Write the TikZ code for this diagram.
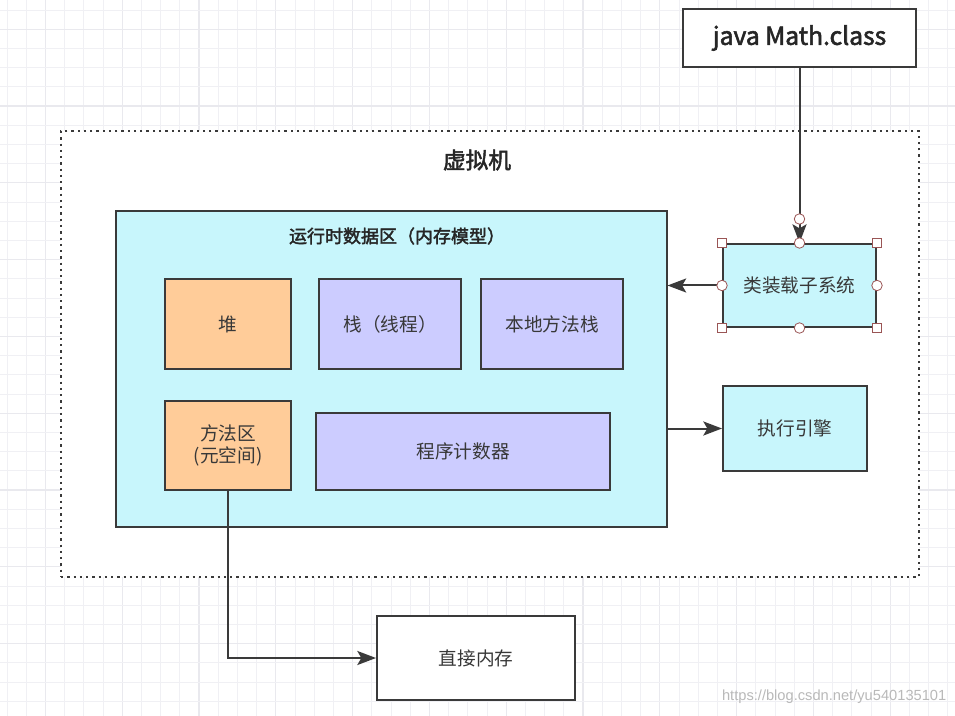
\documentclass[tikz,border=0pt]{standalone}
\usepackage{fontspec}
\setmainfont{Noto Sans CJK SC}[AutoFakeBold=2.2]
\newfontfamily\wmfont{Liberation Sans}
\usetikzlibrary{arrows.meta}
\definecolor{strk}{HTML}{3A3A3A}
\definecolor{txt}{HTML}{383838}
\definecolor{cyanf}{HTML}{C8F6FC}
\definecolor{orangef}{HTML}{FFCC99}
\definecolor{purplef}{HTML}{CCCCFF}
\definecolor{gridc}{HTML}{F0F0F4}
\definecolor{gridm}{HTML}{E9E9EE}
\definecolor{handle}{HTML}{9A5555}
\newdimen\px \px=0.75pt
\tikzset{
  x=0.75pt, y=-0.75pt,
  box/.style={draw=strk, line width=1.5pt, rectangle, inner sep=0pt, align=center,
    text=txt, font=\fontsize{14}{17}\selectfont},
  arr/.style={draw=strk, line width=1.5pt, -{Stealth[length=14pt,width=10.5pt,inset=3pt]}},
  sqh/.style={draw=handle, fill=white, line width=0.6pt, rectangle, minimum size=9\px, inner sep=0pt},
  cih/.style={draw=handle, fill=white, line width=0.6pt, circle, minimum size=10.5\px, inner sep=0pt},
}
\begin{document}
\begin{tikzpicture}
\fill[white] (0,0) rectangle (955,716);
\useasboundingbox (0,0) rectangle (955,716);
% background grid
\foreach \k in {0,...,50} {
  \pgfmathsetmacro\gx{7+19.2*\k}
  \pgfmathtruncatemacro\mj{mod(\k,4)==2}
  \ifnum\mj=1 \draw[gridm, line width=0.8pt] (\gx,0) -- (\gx,716);
  \else \draw[gridc, line width=0.6pt] (\gx,0) -- (\gx,716); \fi
}
\foreach \k in {0,...,37} {
  \pgfmathsetmacro\gy{10+19.2*\k}
  \pgfmathtruncatemacro\mj{mod(\k,4)==1}
  \ifnum\mj=1 \draw[gridm, line width=0.8pt] (0,\gy) -- (955,\gy);
  \else \draw[gridc, line width=0.6pt] (0,\gy) -- (955,\gy); \fi
}
% virtual machine (dotted)
\node[draw=strk, fill=white, line width=1.7pt, dash pattern=on 1.7pt off 3pt,
      minimum width=858\px, minimum height=446\px, inner sep=0pt] (vm) at (490,354) {};
\node[font=\fontsize{17}{20}\selectfont\bfseries, text=black!85] (vmlabel) at (477,160) {虚拟机};
% java Math.class
\node[box, fill=white, minimum width=233\px, minimum height=58\px,
      font=\fontsize{18.5}{21}\selectfont\bfseries, text=black!85] (java) at (799.5,38) {java Math.class};
% runtime data area
\node[box, fill=cyanf, minimum width=551\px, minimum height=315\px] (rt) at (391,369) {};
\node[font=\fontsize{13.5}{16}\selectfont\bfseries, text=black!85] (rttitle) at (397,236) {运行时数据区（内存模型）};
\node[box, fill=orangef, minimum width=126\px, minimum height=90\px] (heap) at (228,324) {堆};
\node[box, fill=purplef, minimum width=142\px, minimum height=90\px] (stack) at (390,324) {栈（线程）};
\node[box, fill=purplef, minimum width=142\px, minimum height=90\px] (native) at (552,324) {本地方法栈};
\node[box, fill=orangef, minimum width=126\px, minimum height=89\px] (method) at (228,445.5) {方法区\\(元空间)};
\node[box, fill=purplef, minimum width=294\px, minimum height=77\px] (pc) at (463,451.5) {程序计数器};
% class loader (selected)
\node[box, fill=cyanf, minimum width=153\px, minimum height=83\px] (loader) at (799.5,285.5) {类装载子系统};
% execution engine
\node[box, fill=cyanf, minimum width=144\px, minimum height=85\px] (engine) at (795,428.5) {执行引擎};
% direct memory
\node[box, fill=white, minimum width=198\px, minimum height=84\px] (direct) at (476,658) {直接内存};
% connectors
\draw[arr] (java.south) -- (loader.north);
\draw[arr] (loader.west) -- (rt.east |- loader.west);
\draw[arr] (rt.east |- engine.west) -- (engine.west);
\draw[arr] (method.south) -- (method.south |- direct.west) -- (direct.west);
% selection handles
\node[cih] (hedge) at (799.5,219) {};
\foreach \a in {north west, north east, south west, south east}
  \node[sqh] at (loader.\a) {};
\foreach \a in {north, south, west, east}
  \node[cih] at (loader.\a) {};
% watermark
\node[anchor=east, text=gray!55, font=\wmfont\fontsize{11}{13}\selectfont] (wm) at (951,697) {https://blog.csdn.net/yu540135101};
\end{tikzpicture}
\end{document}
